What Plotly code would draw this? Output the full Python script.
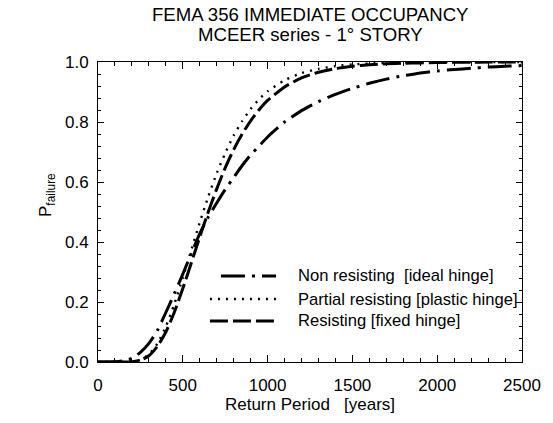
import plotly.graph_objects as go

# Return period [years]
return_period = [0, 100, 150, 200, 250, 300, 350, 400, 450, 500, 550, 600, 650, 700,
                 750, 800, 850, 900, 950, 1000, 1100, 1200, 1300, 1400, 1500, 1600,
                 1700, 1800, 1900, 2000, 2100, 2200, 2300, 2400, 2500]

p_non_resisting = [0.0, 0.001, 0.004, 0.012, 0.032, 0.062, 0.105, 0.165, 0.228, 0.293,
                   0.362, 0.428, 0.483, 0.53, 0.575, 0.615, 0.655, 0.69, 0.72, 0.75,
                   0.80, 0.838, 0.868, 0.892, 0.912, 0.929, 0.943, 0.954, 0.963, 0.970,
                   0.975, 0.979, 0.983, 0.986, 0.988]

p_partial = [0.0, 0.0, 0.0, 0.001, 0.007, 0.025, 0.061, 0.118, 0.193, 0.281, 0.373,
             0.465, 0.551, 0.629, 0.696, 0.755, 0.803, 0.843, 0.876, 0.902, 0.939,
             0.963, 0.977, 0.986, 0.992, 0.995, 0.997, 0.998, 0.999, 0.999, 1.0, 1.0,
             1.0, 1.0, 1.0]

p_resisting = [0.0, 0.0, 0.0, 0.001, 0.006, 0.021, 0.052, 0.10, 0.166, 0.245, 0.33,
               0.417, 0.50, 0.577, 0.647, 0.708, 0.76, 0.804, 0.841, 0.872, 0.917,
               0.947, 0.966, 0.978, 0.986, 0.991, 0.994, 0.996, 0.997, 0.998, 0.999,
               0.999, 1.0, 1.0, 1.0]

series_names = ["Non resisting  [ideal hinge]",
                "Partial resisting [plastic hinge]",
                "Resisting [fixed hinge]"]

title_lines = ["FEMA 356 IMMEDIATE OCCUPANCY", "MCEER series - 1° STORY"]
x_title = "Return Period   [years]"
y_title = "P<sub>failure</sub>"

x_ticks = [0, 500, 1000, 1500, 2000, 2500]
y_ticks = [0.0, 0.2, 0.4, 0.6, 0.8, 1.0]

FONT = "Liberation Sans, Arial, Helvetica, sans-serif"
FS = 17

styles = [
    dict(width=3, dash="24px,7px,3px,7px"),
    dict(width=2.4, dash="2px,6px"),
    dict(width=3, dash="18px,5px"),
]
series = [p_non_resisting, p_partial, p_resisting]

fig = go.Figure()
for name, ys, st in zip(series_names, series, styles):
    fig.add_trace(go.Scatter(
        x=return_period, y=ys, mode="lines", name=name,
        line=dict(color="black", width=st["width"], dash=st["dash"], shape="spline", smoothing=0.6),
        showlegend=False,
    ))

# Custom legend (line samples + labels) in paper coordinates
leg_rows_y = [0.287, 0.21, 0.137]
sample_x0 = [0.29, 0.264, 0.264]
for i, (name, st) in enumerate(zip(series_names, styles)):
    fig.add_shape(type="line", xref="paper", yref="paper",
                  x0=sample_x0[i], x1=0.42, y0=leg_rows_y[i], y1=leg_rows_y[i],
                  line=dict(color="black", width=st["width"], dash=st["dash"]))
    fig.add_annotation(xref="paper", yref="paper", x=0.468, y=leg_rows_y[i],
                       text=name.replace("  ", "\u00a0\u00a0"), showarrow=False,
                       xanchor="left", yanchor="middle",
                       font=dict(family=FONT, size=16.6, color="black"))

# Title (two lines)
for txt, yy in zip(title_lines, [1.157, 1.09]):
    fig.add_annotation(xref="paper", yref="paper", x=0.5, y=yy, text=txt,
                       showarrow=False, xanchor="center", yanchor="middle",
                       font=dict(family=FONT, size=18.6, color="black"))

# Y axis title
fig.add_annotation(xref="paper", yref="paper", x=-0.12, y=0.557, text=y_title,
                   textangle=-90, showarrow=False, xanchor="center", yanchor="middle",
                   font=dict(family=FONT, size=FS, color="black"))

axis_common = dict(
    showline=True, linecolor="black", linewidth=1, mirror="allticks",
    ticks="inside", tickcolor="black", tickwidth=1,
    showgrid=False, zeroline=False,
    tickfont=dict(family=FONT, size=FS, color="black"),
)

fig.update_xaxes(
    range=[0, 2500], tickvals=x_ticks, ticktext=[str(v) for v in x_ticks], ticklen=7,
    ticklabelstandoff=8,
    minor=dict(dtick=100, tick0=0, ticks="inside", ticklen=4, tickcolor="black", showgrid=False),
    title=dict(text=x_title.replace(" ", "\u00a0"), font=dict(family=FONT, size=FS, color="black"), standoff=3),
    **axis_common,
)
fig.update_yaxes(
    range=[0, 1], tickvals=y_ticks, ticktext=[f"{v:.1f}" for v in y_ticks], ticklen=6,
    ticklabelstandoff=5,
    minor=dict(dtick=0.04, tick0=0, ticks="inside", ticklen=3, tickcolor="black", showgrid=False),
    **axis_common,
)

fig.update_layout(
    width=553, height=423,
    margin=dict(l=98, r=26, t=62, b=61),
    paper_bgcolor="white", plot_bgcolor="white",
    showlegend=False,
)

fig.write_html("out.html")
